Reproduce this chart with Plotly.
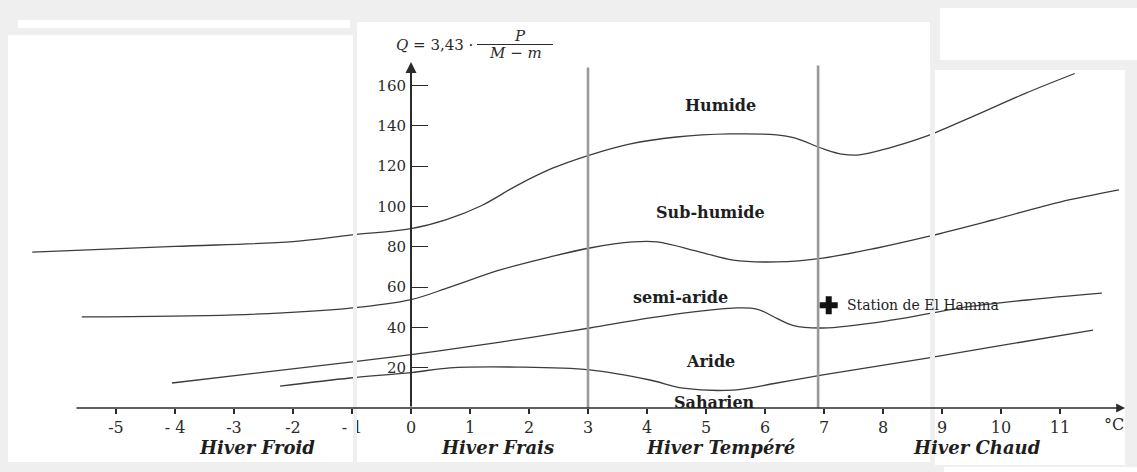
import plotly.graph_objects as go

# ---- Emberger climagram: Q2 = 3,43 * P / (M - m) versus m (°C) ----

# Boundaries between bioclimatic stages (m in °C, Q2)
humide_m = [-6.42, -4.0, -2.0, -1.0, 0.0, 0.6, 1.2, 1.8, 2.4, 3.0, 3.7, 4.5,
            5.4, 6.2, 6.5, 7.0, 7.3, 7.6, 8.1, 8.7, 9.5, 10.4, 11.25]
humide_q = [77.4, 80.2, 82.6, 85.9, 89.0, 93.5, 100.5, 110.5, 119.0, 125.3, 131.0, 134.5,
            136.0, 135.5, 134.0, 128.5, 126.0, 125.6, 129.0, 134.5, 144.4, 156.0, 166.0]

subhumide_m = [-5.58, -3.0, -1.03, 0.0, 0.66, 1.51, 2.36, 3.03, 3.76, 4.17, 4.9, 5.46,
               6.2, 6.98, 7.9, 8.75, 9.86, 11.0, 12.0]
subhumide_q = [45.2, 46.2, 49.6, 53.8, 60.0, 68.5, 75.0, 79.4, 82.4, 82.4, 77.4, 73.4,
               72.5, 74.4, 79.4, 85.0, 93.3, 102.2, 108.2]

semiaride_m = [-4.05, -1.03, 0.0, 0.95, 2.07, 3.03, 4.05, 4.9, 5.46, 5.86, 6.2, 6.47,
               6.98, 8.17, 9.3, 10.44, 11.71]
semiaride_q = [12.4, 22.8, 26.5, 30.3, 35.2, 39.7, 44.7, 48.1, 49.6, 49.1, 44.5, 41.0,
               39.7, 43.7, 49.6, 53.6, 57.0]

aride_m = [-2.22, -1.03, 0.0, 0.66, 1.8, 3.03, 4.05, 4.61, 5.46, 6.2, 6.98, 8.75, 9.86, 11.56]
aride_q = [10.9, 14.9, 17.6, 19.9, 20.3, 18.9, 13.9, 9.9, 8.9, 12.4, 16.4, 24.8, 30.3, 38.7]

# Winter-type limits (vertical lines) and their top
hiver_limits = [3.0, 6.9]
hiver_limit_tops = [169.0, 170.0]

# Station
station_name = "Station de El Hamma"
station_m = [7.08]
station_q = [51.0]

# Axis ticks
x_ticks = [-5, -4, -3, -2, -1, 0, 1, 2, 3, 4, 5, 6, 7, 8, 9, 10, 11]
x_tick_text = ["-5", "- 4", "-3", "-2", "- 1", "0", "1", "2", "3", "4", "5", "6",
               "7", "8", "9", "10", "11"]
y_ticks = [20, 40, 60, 80, 100, 120, 140, 160]

# Stage names and positions
stage_names = ["Humide", "Sub-humide", "semi-aride", "Aride", "Saharien"]
stage_m = [5.24, 5.07, 4.56, 5.07, 5.15]
stage_q = [150.0, 97.0, 55.0, 23.0, 2.5]

# Winter types under the axis
winter_names = ["Hiver Froid", "Hiver Frais", "Hiver Tempéré", "Hiver Chaud"]
winter_m = [-2.61, 1.47, 5.25, 9.6]

# ---- page geometry ----
W, H = 1137, 472
ORIGIN_X, ORIGIN_Y = 411.0, 408.0      # pixel position of (0, 0)
PX_PER_DEG, PX_PER_Q = 59.0, 2.015

x_range = [-ORIGIN_X / PX_PER_DEG, (W - ORIGIN_X) / PX_PER_DEG]
y_range = [(ORIGIN_Y - H) / PX_PER_Q, ORIGIN_Y / PX_PER_Q]


def mx(px):
    return (px - ORIGIN_X) / PX_PER_DEG


def mq(py):
    return (ORIGIN_Y - py) / PX_PER_Q


SERIF = "DejaVu Serif, Liberation Serif, serif"
INK = "#2b2b2b"
CURVE = "#3c3c3c"

fig = go.Figure()

for xs, qs in [(humide_m, humide_q), (subhumide_m, subhumide_q),
               (semiaride_m, semiaride_q), (aride_m, aride_q)]:
    fig.add_trace(go.Scatter(x=xs, y=qs, mode="lines",
                             line=dict(color=CURVE, width=1.3, shape="spline", smoothing=1.0),
                             hoverinfo="skip", showlegend=False))

for xv, top in zip(hiver_limits, hiver_limit_tops):
    fig.add_trace(go.Scatter(x=[xv, xv], y=[0, top], mode="lines",
                             line=dict(color="#9a9a9a", width=2.6),
                             hoverinfo="skip", showlegend=False))

fig.add_trace(go.Scatter(x=station_m, y=station_q, mode="markers",
                         marker=dict(symbol="cross", size=15, color="#111111",
                                     line=dict(width=0)),
                         name=station_name, showlegend=False))

# scanned-sheet panels
panels = [
    (8, 35, 353, 462), (18, 20, 350, 28), (357, 22, 930, 462),
    (935, 70, 1125, 465), (940, 8, 1137, 60), (944, 467, 1137, 472),
]
shapes = []
for x0, y0, x1, y1 in panels:
    shapes.append(dict(type="rect", xref="paper", yref="paper", layer="below",
                       x0=x0 / W, x1=x1 / W, y0=1 - y1 / H, y1=1 - y0 / H,
                       fillcolor="white", line=dict(width=0)))
gaps = [(353, 28, 357, 472), (930, 62, 935, 472)]
for x0, y0, x1, y1 in gaps:
    shapes.append(dict(type="rect", xref="paper", yref="paper", layer="above",
                       x0=x0 / W, x1=x1 / W, y0=1 - y1 / H, y1=1 - y0 / H,
                       fillcolor="#efefef", line=dict(width=0)))

# fraction bar of the formula
shapes.append(dict(type="line", xref="x", yref="y",
                   x0=mx(477), x1=mx(553), y0=mq(44.5), y1=mq(44.5),
                   line=dict(color=INK, width=1)))

annotations = []
# axis arrows
annotations.append(dict(x=0, y=mq(62), ax=0, ay=0,
                        xref="x", yref="y", axref="x", ayref="y", text="",
                        showarrow=True, arrowhead=2, arrowsize=1.1, arrowwidth=2,
                        arrowcolor=INK))
annotations.append(dict(x=mx(1125), y=0, ax=mx(75), ay=0,
                        xref="x", yref="y", axref="x", ayref="y", text="",
                        showarrow=True, arrowhead=2, arrowsize=1.1, arrowwidth=1.6,
                        arrowcolor=INK))

for name, xm, qv in zip(stage_names, stage_m, stage_q):
    annotations.append(dict(x=xm, y=qv, xref="x", yref="y", text=f"<b>{name}</b>",
                            showarrow=False, font=dict(family=SERIF, size=16, color="#1e1e1e")))

for name, xm in zip(winter_names, winter_m):
    annotations.append(dict(x=xm, y=mq(447), xref="x", yref="y",
                            text=f"<b><i>{name}</i></b>", showarrow=False,
                            font=dict(family=SERIF, size=18, color="#1e1e1e")))

annotations.append(dict(x=mx(1114), y=mq(424), xref="x", yref="y", text="°C",
                        showarrow=False, font=dict(family=SERIF, size=16, color=INK)))

annotations.append(dict(x=station_m[0], y=station_q[0], xref="x", yref="y",
                        text=station_name, showarrow=False, xanchor="left", xshift=16,
                        font=dict(family=SERIF, size=14, color="#1e1e1e")))

# formula Q = 3,43 · P / (M - m)
annotations.append(dict(x=mx(475), y=mq(44.5), xref="x", yref="y", xanchor="right",
                        text="<i>Q</i> = 3,43 ·", showarrow=False,
                        font=dict(family=SERIF, size=15, color=INK)))
annotations.append(dict(x=mx(520), y=mq(36), xref="x", yref="y", text="<i>P</i>",
                        showarrow=False, font=dict(family=SERIF, size=15, color=INK)))
annotations.append(dict(x=mx(515), y=mq(53), xref="x", yref="y",
                        text="<i>M</i> − <i>m</i>", showarrow=False,
                        font=dict(family=SERIF, size=15, color=INK)))

fig.update_layout(
    width=W, height=H,
    margin=dict(l=0, r=0, t=0, b=0, pad=0),
    paper_bgcolor="#efefef", plot_bgcolor="rgba(0,0,0,0)",
    showlegend=False,
    shapes=shapes, annotations=annotations,
    xaxis=dict(range=x_range, domain=[0, 1], anchor="free",
               position=(H - ORIGIN_Y) / H,
               tickmode="array", tickvals=x_ticks, ticktext=x_tick_text,
               ticks="outside", ticklen=5, tickwidth=1.5, tickcolor=INK,
               showline=False, showgrid=False, zeroline=False,
               tickfont=dict(family=SERIF, size=16, color=INK)),
    yaxis=dict(range=y_range, domain=[0, 1], anchor="free",
               position=ORIGIN_X / W,
               tickmode="array", tickvals=y_ticks,
               ticks="inside", ticklen=16, tickwidth=1.3, tickcolor=INK,
               ticklabelstandoff=5,
               showline=False, showgrid=False, zeroline=False,
               tickfont=dict(family=SERIF, size=15, color=INK)),
)

fig.write_html("out.html")
